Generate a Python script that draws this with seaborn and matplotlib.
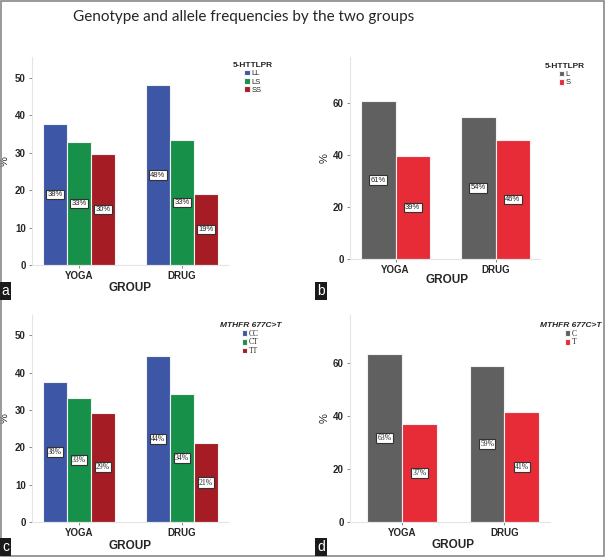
import pandas as pd
import numpy as np
import matplotlib
matplotlib.use('Agg')
import matplotlib.pyplot as plt
import seaborn as sns
from matplotlib.patches import Rectangle

# Data
groups = ['YOGA', 'DRUG']

geno_5httlpr = ['LL', 'LS', 'SS']
geno_5httlpr_yoga = [37.6, 33.0, 29.6]
geno_5httlpr_drug = [48.1, 33.4, 18.9]
geno_5httlpr_labels = ['38%', '33%', '30%', '48%', '33%', '19%']

allele_5httlpr = ['L', 'S']
allele_5httlpr_yoga = [60.6, 39.6]
allele_5httlpr_drug = [54.5, 45.8]
allele_5httlpr_labels = ['61%', '39%', '54%', '46%']

geno_mthfr = ['CC', 'CT', 'TT']
geno_mthfr_yoga = [37.5, 33.1, 29.3]
geno_mthfr_drug = [44.4, 34.3, 21.1]
geno_mthfr_labels = ['38%', '33%', '29%', '44%', '34%', '21%']

allele_mthfr = ['C', 'T']
allele_mthfr_yoga = [63.3, 36.9]
allele_mthfr_drug = [58.8, 41.6]
allele_mthfr_labels = ['63%', '37%', '59%', '41%']

geno_colors = ['#3d56a6', '#17904a', '#a51c24']
allele_colors = ['#606060', '#e72c38']

sns.set_theme(style='white')
plt.rcParams['font.family'] = ['Liberation Sans', 'DejaVu Sans']

W, H = 605, 557
fig = plt.figure(figsize=(W / 100, H / 100), dpi=100)


def make_df(cats, yoga, drug):
    rows = []
    for g, vals in zip(groups, [yoga, drug]):
        for c, v in zip(cats, vals):
            rows.append({'GROUP': g, 'cat': c, 'pct': v})
    return pd.DataFrame(rows)


def px_axes(left, top, right, bottom):
    return fig.add_axes([left / W, 1 - bottom / H, (right - left) / W, (bottom - top) / H])


def panel(box, cats, yoga, drug, labels, colors, ylim, xlim, yticks, width,
          leg_title, leg_pos, italic, label_family, letter, letter_pos,
          ylab_x, xlab_pos):
    left, top, right, bottom = box
    ax = px_axes(*box)
    df = make_df(cats, yoga, drug)
    sns.barplot(data=df, x='GROUP', y='pct', hue='cat', palette=colors,
                saturation=1, width=width, edgecolor='#f2f2f2', linewidth=0.8,
                ax=ax, legend=True)
    ax.set_ylim(*ylim)
    ax.set_xlim(*xlim)
    ax.set_yticks(yticks)
    ax.tick_params(axis='both', labelsize=7, length=2.5, width=0.6,
                   color='#777777', pad=2, bottom=True, left=True)
    for t in ax.get_xticklabels() + ax.get_yticklabels():
        t.set_fontweight('bold')
    ax.set_xlabel('GROUP', fontsize=8.5, fontweight='bold')
    ax.set_ylabel('%', fontsize=8)
    ax.yaxis.set_label_coords((ylab_x - left) / (right - left), 0.5)
    ax.xaxis.set_label_coords((xlab_pos[0] - left) / (right - left),
                              (bottom - xlab_pos[1]) / (bottom - top))
    ax.xaxis.label.set_va('center')
    for s in ['top', 'right']:
        ax.spines[s].set_visible(False)
    for s in ['left', 'bottom']:
        ax.spines[s].set_color('#e4e4e4')
        ax.spines[s].set_linewidth(0.8)

    # value labels at mid-height of each bar
    bars = []
    for cont in ax.containers:
        bars.extend(list(cont))
    bars.sort(key=lambda p: p.get_x())
    for p, lab in zip(bars, labels):
        ax.text(p.get_x() + p.get_width() / 2, p.get_height() / 2, lab,
                ha='center', va='center', fontsize=5.5, family=label_family,
                bbox=dict(boxstyle='square,pad=0.15', fc='white', ec='#333333', lw=0.8))

    handles, texts = ax.get_legend_handles_labels()
    if ax.legend_:
        ax.legend_.remove()
    leg = ax.legend(handles, texts, title=leg_title, frameon=False,
                    loc='upper left', bbox_to_anchor=(leg_pos[0] / W, 1 - leg_pos[1] / H),
                    bbox_transform=fig.transFigure,
                    handlelength=0.7, handleheight=0.8,
                    handletextpad=0.2, labelspacing=0.1, borderpad=0,
                    prop={'family': label_family, 'size': 5.5})
    leg.get_title().set_fontsize(6)
    leg.get_title().set_fontweight('bold')
    if italic:
        leg.get_title().set_fontstyle('italic')

    fig.text(letter_pos[0] / W, 1 - letter_pos[1] / H, letter, color='white',
             fontsize=10, ha='left', va='top',
             bbox=dict(boxstyle='square,pad=0.15', fc='#1a1a1a', ec='none'))
    return ax


panel((32, 57, 228, 265), geno_5httlpr, geno_5httlpr_yoga, geno_5httlpr_drug,
      geno_5httlpr_labels, geno_colors, (0, 55.6), (-0.456, 1.447),
      [0, 10, 20, 30, 40, 50], 0.7, '5-HTTLPR', (229, 58), False,
      ['Liberation Sans', 'DejaVu Sans'], 'a', (1, 284), 10, (130, 288))

panel((350, 57, 540, 259), allele_5httlpr, allele_5httlpr_yoga, allele_5httlpr_drug,
      allele_5httlpr_labels, allele_colors, (0, 77.5), (-0.455, 1.445),
      [0, 20, 40, 60], 0.69, '5-HTTLPR', (541, 59), False,
      ['Liberation Sans', 'DejaVu Sans'], 'b', (317, 284), 330, (447, 280))

panel((32, 315, 228, 522), geno_mthfr, geno_mthfr_yoga, geno_mthfr_drug,
      geno_mthfr_labels, geno_colors, (0, 55.4), (-0.456, 1.447),
      [0, 10, 20, 30, 40, 50], 0.7, 'MTHFR 677C>T', (216, 318), True,
      ['Liberation Serif', 'DejaVu Serif'], 'c', (2, 540), 10, (130, 546))

panel((350, 315, 550, 522), allele_mthfr, allele_mthfr_yoga, allele_mthfr_drug,
      allele_mthfr_labels, allele_colors, (0, 78), (-0.507, 1.444),
      [0, 20, 40, 60], 0.68, 'MTHFR 677C>T', (536, 318), True,
      ['Liberation Serif', 'DejaVu Serif'], 'd', (317, 540), 330, (453, 545))

fig.text(244 / W, 1 - 17 / H, 'Genotype and allele frequencies by the two groups',
         ha='center', va='center', fontsize=11, family=['Lato', 'DejaVu Sans'])

# outer frame
fig.patches.append(Rectangle((0.001, 0.001), 0.997, 0.997, transform=fig.transFigure,
                             fill=False, ec='#888888', lw=1.2))

fig.savefig('out.png', dpi=100)
